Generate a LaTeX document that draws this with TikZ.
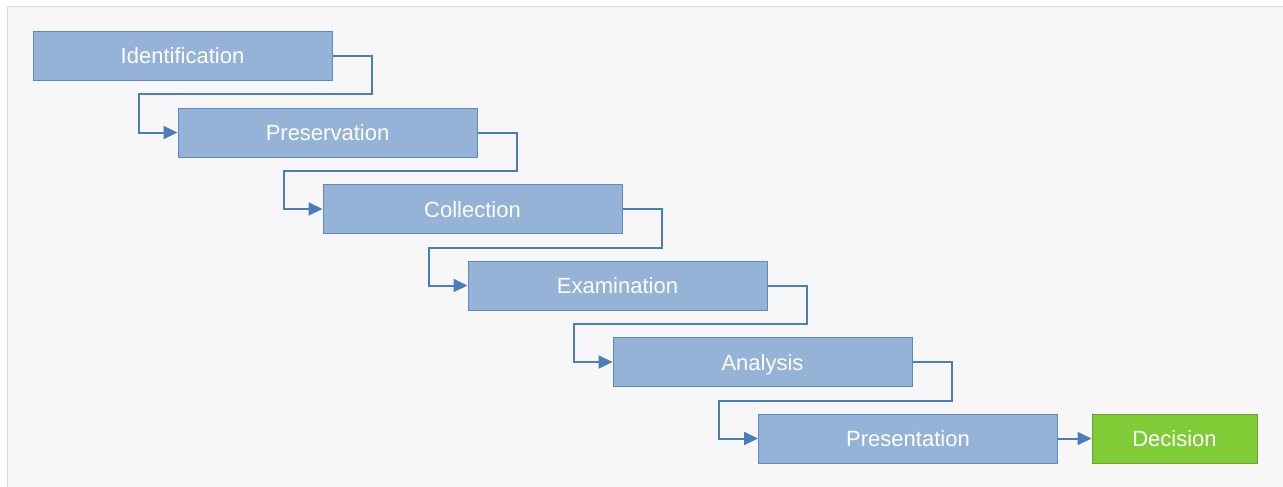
\documentclass[tikz,border=0pt]{standalone}
\usepackage{fontspec}
\setmainfont{Liberation Sans}
\usetikzlibrary{arrows.meta,calc}
\definecolor{panel}{HTML}{F7F7F7}
\definecolor{panelline}{HTML}{DCDCD0}
\definecolor{boxfill}{HTML}{95B3D7}
\definecolor{boxline}{HTML}{5B8BC6}
\definecolor{connline}{HTML}{4A7EBB}
\definecolor{decfill}{HTML}{80CC37}
\definecolor{decline}{HTML}{6E9E35}
\tikzset{
  stage/.style={draw=boxline, line width=1pt, fill=boxfill, minimum width=299pt, minimum height=49pt, inner sep=0pt, text=white, text height=16pt, text depth=0pt, font=\fontsize{22}{26}\selectfont},
  decbox/.style={draw=decline, line width=1pt, fill=decfill, minimum width=165pt, minimum height=49pt, inner sep=0pt, text=white, text height=16pt, text depth=0pt, font=\fontsize{22}{26}\selectfont},
  conn/.style={draw=connline, line width=2pt, -{Triangle[length=14pt,width=13pt]}, color=connline}
}
\begin{document}
\begin{tikzpicture}[x=1pt,y=-1pt]
\useasboundingbox (0,0) rectangle (1283,487);
\fill[white] (0,0) rectangle (1283,487);
\fill[panel] (7,7) rectangle (1283,487);
\draw[panelline, line width=1pt] (1283,7) -- (7,7) -- (7,487);
\node[stage] (s1) at (182.5,56) {Identification};
\node[stage] (s2) at (327.5,132.5) {Preservation};
\node[stage] (s3) at (472.5,209) {Collection};
\node[stage] (s4) at (617.5,285.5) {Examination};
\node[stage] (s5) at (762.5,362) {Analysis};
\node[stage] (s6) at (908,438.5) {Presentation};
\node[decbox] (d) at (1174.5,438.5) {Decision};
\foreach \a/\b in {s1/s2,s2/s3,s3/s4,s4/s5,s5/s6}{
  \draw[conn] (\a.east) -- ++(39,0) |- ($(\b.west)+(-39,-38)$) |- (\b.west);
}
\draw[conn] (s6.east) -- (d.west);
\end{tikzpicture}
\end{document}
